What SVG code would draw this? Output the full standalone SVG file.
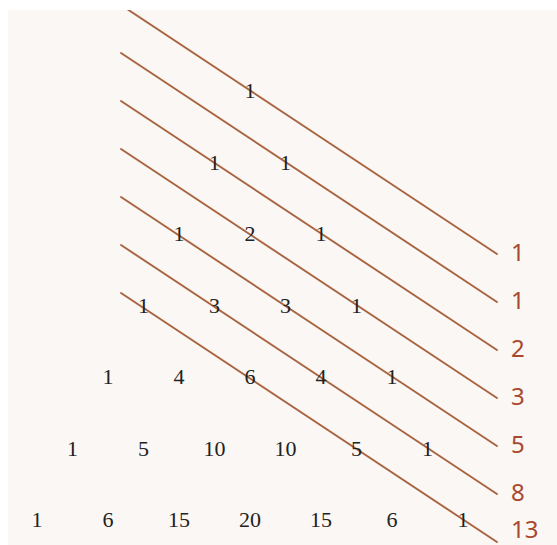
<svg xmlns="http://www.w3.org/2000/svg" width="557" height="545" viewBox="0 0 557 545">
<style>
.n{font-family:"Liberation Serif","DejaVu Serif",serif;font-size:22px;fill:#222222;text-anchor:middle}
.f{font-family:"Noto Sans","Open Sans",sans-serif;font-size:24px;fill:#a9482e}
.d{stroke:#a9633f;stroke-width:1.9;fill:none;stroke-linecap:round}
</style>
<rect x="0" y="0" width="557" height="545" fill="#ffffff"/>
<rect x="8" y="10" width="549" height="535" fill="#faf7f4"/>
<g id="connectors">
<svg x="8" y="10" width="549" height="535" viewBox="8 10 549 535" overflow="hidden">
<line class="d" x1="121" y1="5" x2="497" y2="254"/>
<line class="d" x1="121" y1="53" x2="497" y2="302"/>
<line class="d" x1="121" y1="101" x2="497" y2="350"/>
<line class="d" x1="121" y1="149" x2="497" y2="398"/>
<line class="d" x1="121" y1="197" x2="497" y2="446"/>
<line class="d" x1="121" y1="245" x2="497" y2="494"/>
<line class="d" x1="121" y1="293" x2="497" y2="542"/>
</svg>
</g>
<g id="row0"><text class="n" x="250" y="98">1</text></g>
<g id="row1"><text class="n" x="214.5" y="169.5">1</text><text class="n" x="285.5" y="169.5">1</text></g>
<g id="row2"><text class="n" x="179" y="241">1</text><text class="n" x="250" y="241">2</text><text class="n" x="321" y="241">1</text></g>
<g id="row3"><text class="n" x="143.5" y="312.5">1</text><text class="n" x="214.5" y="312.5">3</text><text class="n" x="285.5" y="312.5">3</text><text class="n" x="356.5" y="312.5">1</text></g>
<g id="row4"><text class="n" x="108" y="384">1</text><text class="n" x="179" y="384">4</text><text class="n" x="250" y="384">6</text><text class="n" x="321" y="384">4</text><text class="n" x="392" y="384">1</text></g>
<g id="row5"><text class="n" x="72.5" y="455.5">1</text><text class="n" x="143.5" y="455.5">5</text><text class="n" x="214.5" y="455.5">10</text><text class="n" x="285.5" y="455.5">10</text><text class="n" x="356.5" y="455.5">5</text><text class="n" x="427.5" y="455.5">1</text></g>
<g id="row6"><text class="n" x="37" y="527">1</text><text class="n" x="108" y="527">6</text><text class="n" x="179" y="527">15</text><text class="n" x="250" y="527">20</text><text class="n" x="321" y="527">15</text><text class="n" x="392" y="527">6</text><text class="n" x="463" y="527">1</text></g>
<g id="sums">
<text class="f" x="511" y="261">1</text>
<text class="f" x="511" y="309">1</text>
<text class="f" x="511" y="357">2</text>
<text class="f" x="511" y="405">3</text>
<text class="f" x="511" y="453">5</text>
<text class="f" x="511" y="501">8</text>
<text class="f" x="511" y="538">13</text>
</g>
</svg>
